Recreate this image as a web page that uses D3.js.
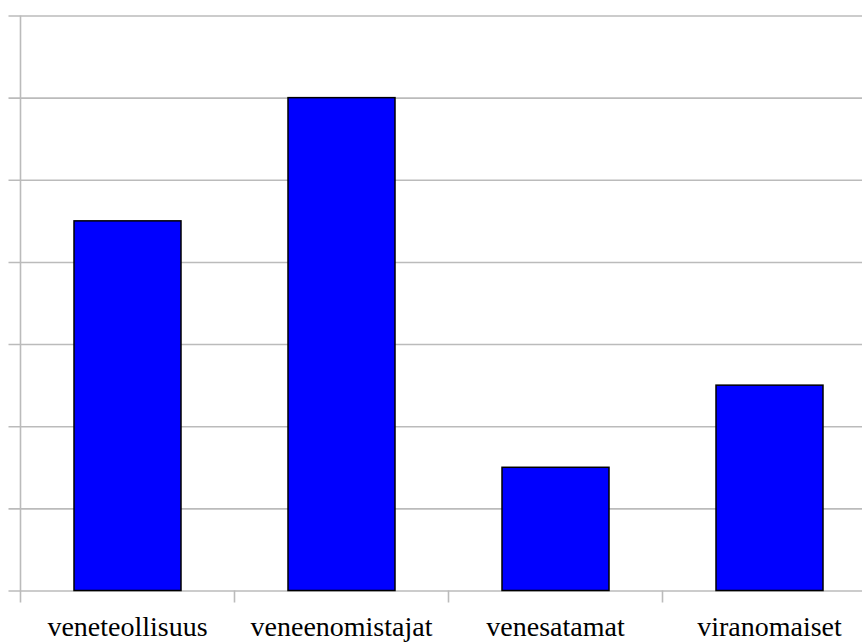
<!DOCTYPE html>
<html>
<head>
<meta charset="utf-8">
<script src="https://cdn.jsdelivr.net/npm/d3@7"></script>
<style>
  html, body { margin: 0; padding: 0; background: #fff; }
  svg { display: block; }
  .cat-label { font-family: "Liberation Serif", "Times New Roman", Tinos, "DejaVu Serif", serif; }
</style>
</head>
<body>
<svg id="chart" width="862" height="643"></svg>
<script>
// Stakeholder groups and their values
const categories = ["veneteollisuus", "veneenomistajat", "venesatamat", "viranomaiset"];
const values = [4.5, 6, 1.5, 2.5];
const yTicks = [0, 1, 2, 3, 4, 5, 6, 7];

(function () {
  const svg = d3.select("#chart");
  const marginLeft = 20.5, plotTop = 15.5, plotBottom = 590.5;
  const band = 214;
  const plotRight = marginLeft + band * categories.length;

  const x = d3.scaleBand().domain(categories).range([marginLeft, plotRight]).padding(0);
  const y = d3.scaleLinear().domain([0, 7]).range([plotBottom, plotTop]);

  const gridColor = "#bbbbbb";

  // Horizontal gridlines, extending a little past the axis on the left
  const yAxis = d3.axisLeft(y).tickValues(yTicks).tickSize(-(plotRight - marginLeft)).tickFormat("");
  const gy = svg.append("g").attr("transform", `translate(${marginLeft},0)`).call(yAxis);
  gy.select(".domain").remove();
  gy.selectAll(".tick line")
    .attr("x1", -12)
    .attr("stroke", gridColor)
    .attr("stroke-width", 1.6);

  // Vertical axis line
  svg.append("line")
    .attr("x1", marginLeft).attr("x2", marginLeft)
    .attr("y1", plotTop).attr("y2", plotBottom + 12)
    .attr("stroke", gridColor).attr("stroke-width", 1.6);

  // Category separator ticks below the baseline
  const sepTicks = d3.range(1, categories.length).map(i => marginLeft + band * i);
  svg.append("g").selectAll("line").data(sepTicks).join("line")
    .attr("x1", d => d).attr("x2", d => d)
    .attr("y1", plotBottom).attr("y2", plotBottom + 12)
    .attr("stroke", gridColor).attr("stroke-width", 1.6);

  // Bars
  svg.append("g").selectAll("rect").data(categories).join("rect")
    .attr("x", d => x(d) + x.bandwidth() / 4)
    .attr("width", x.bandwidth() / 2)
    .attr("y", (d, i) => y(values[i]))
    .attr("height", (d, i) => y(0) - y(values[i]))
    .attr("fill", "#0000ff")
    .attr("stroke", "#000")
    .attr("stroke-width", 1.5);

  // Category labels
  svg.append("g").selectAll("text").data(categories).join("text")
    .attr("class", "cat-label")
    .attr("x", d => x(d) + x.bandwidth() / 2)
    .attr("y", 636)
    .attr("text-anchor", "middle")
    .attr("font-size", 28)
    .attr("fill", "#000")
    .text(d => d);
})();
</script>
</body>
</html>
